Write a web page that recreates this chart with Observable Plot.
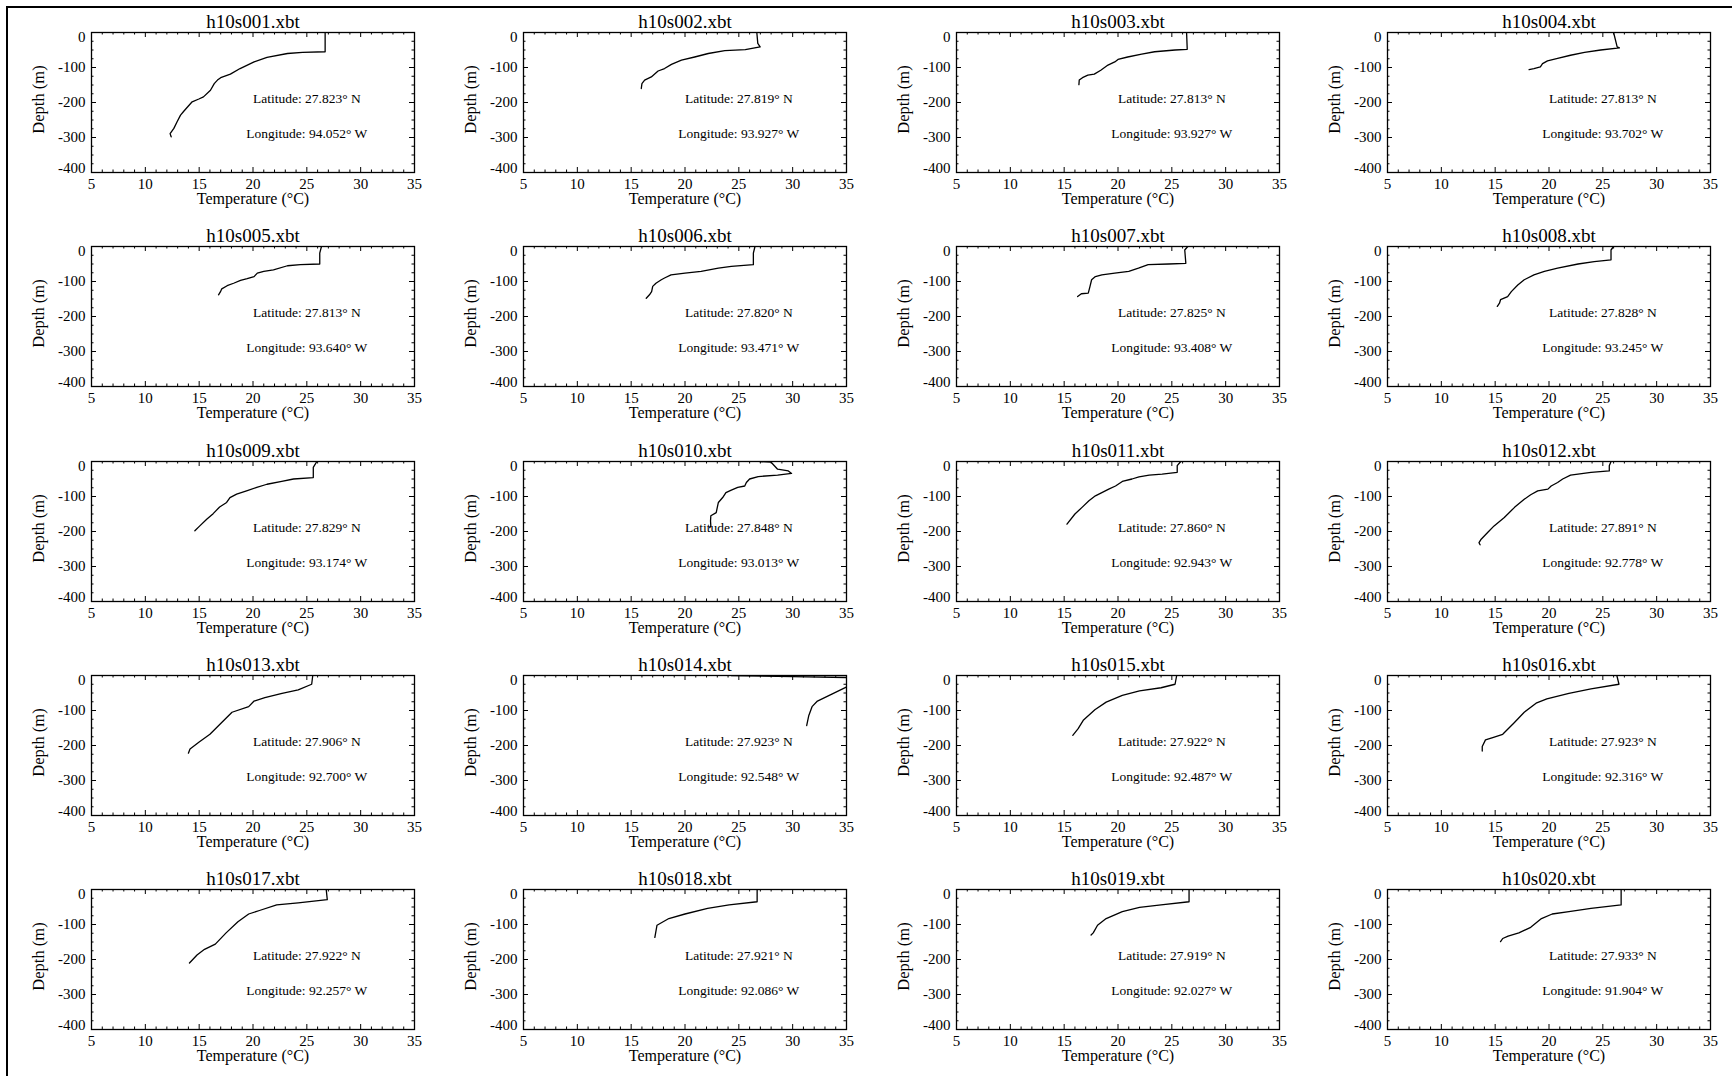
<!DOCTYPE html>
<html><head><meta charset="utf-8">
<script src="https://cdn.jsdelivr.net/npm/d3@7"></script>
<script src="https://cdn.jsdelivr.net/npm/@observablehq/plot@0.6"></script>
<style>
html,body{margin:0;padding:0;background:#fff;}
#wrap{position:relative;width:1732px;height:1076px;overflow:hidden;background:#fff;}
.panel{position:absolute;}
#frame{position:absolute;left:6px;top:6px;width:1800px;height:1200px;border-left:2px solid #000;border-top:2px solid #000;}
</style></head><body><div id="wrap"><div id="frame"></div></div>
<script>
const stations = ["h10s001.xbt","h10s002.xbt","h10s003.xbt","h10s004.xbt","h10s005.xbt","h10s006.xbt","h10s007.xbt","h10s008.xbt","h10s009.xbt","h10s010.xbt","h10s011.xbt","h10s012.xbt","h10s013.xbt","h10s014.xbt","h10s015.xbt","h10s016.xbt","h10s017.xbt","h10s018.xbt","h10s019.xbt","h10s020.xbt"];
const latitudes = ["27.823","27.819","27.813","27.813","27.813","27.820","27.825","27.828","27.829","27.848","27.860","27.891","27.906","27.923","27.922","27.923","27.922","27.921","27.919","27.933"];
const longitudes = ["94.052","93.927","93.927","93.702","93.640","93.471","93.408","93.245","93.174","93.013","92.943","92.778","92.700","92.548","92.487","92.316","92.257","92.086","92.027","91.904"];

const xMajorTicks = [5,10,15,20,25,30,35];
const xMinorTicks = [6,7,8,9,11,12,13,14,16,17,18,19,21,22,23,24,26,27,28,29,31,32,33,34];
const yMajorTicks = [0,-100,-200,-300,-400];
const yMinorTicks = [-25,-50,-75,-125,-150,-175,-225,-250,-275,-325,-350,-375];

const profileTemps = [
  [26.7,26.7,24.6,23.2,21.3,20.1,18.8,17.9,17.0,16.7,16.4,16.05,15.4,14.97,14.35,14.0,13.57,13.27,12.95,12.65,12.3,12.4],
  [26.67,26.76,26.98,25.6,23.7,22.16,20.9,19.67,18.74,18.1,17.5,16.87,16.25,16.0,15.94],
  [26.37,26.43,25.3,23.4,22.2,20.9,20.0,19.7,19.07,18.4,17.8,17.2,16.7,16.4,16.37],
  [26.0,26.33,26.54,24.8,23.3,22.0,20.8,19.86,19.4,19.2,18.6,18.15],
  [26.36,26.2,26.2,24.4,23.2,21.9,21.0,20.4,20.1,19.46,18.84,18.2,17.6,17.1,16.98,16.8],
  [26.5,26.35,26.35,24.3,23.1,21.5,20.0,18.7,18.1,17.8,17.3,17.0,16.9,16.7,16.4],
  [26.48,26.2,26.3,24.7,22.8,21.9,21.0,19.7,18.5,17.9,17.55,17.4,17.24,16.6,16.47,16.25],
  [26.0,25.76,25.76,24.2,22.7,20.8,19.57,18.6,17.7,17.1,16.5,16.16,15.5,15.4,15.2],
  [25.93,25.6,25.6,23.76,22.67,21.3,20.35,19.4,18.48,17.86,17.55,16.9,16.3,15.7,15.06,14.6],
  [26.94,28.0,28.3,28.6,29.6,29.9,28.6,26.8,26.0,25.7,25.55,24.9,24.3,23.8,23.5,23.1,23.0,22.9,22.4,22.37,22.4,22.3],
  [25.83,25.5,25.5,24.1,22.9,21.95,21.3,20.4,19.77,19.14,18.5,17.9,17.3,16.66,16.0,15.26],
  [25.76,25.6,25.6,23.9,22.0,21.27,20.8,20.2,19.9,18.95,18.3,17.7,16.8,15.85,14.9,14.3,13.7,13.5,13.6],
  [25.55,25.45,24.2,22.7,21.1,20.1,19.6,18.05,17.0,16.0,15.0,14.15,14.0],
  [24.3,30.0,35.5,37.0,35.2,33.4,32.3,31.8,31.5,31.3],
  [25.45,25.3,24.0,22.0,20.4,18.9,17.85,16.8,16.3,15.8],
  [26.3,26.5,23.9,21.85,19.8,18.8,17.7,16.7,15.7,14.7,14.1,13.8,13.8],
  [26.8,26.9,24.2,22.2,20.6,19.6,18.6,17.5,16.5,15.5,14.8,14.1],
  [26.7,26.7,24.1,22.1,20.0,18.5,17.4,17.2],
  [26.6,26.6,24.0,22.0,20.4,18.9,18.1,17.7,17.5],
  [26.7,26.7,23.9,21.85,20.3,19.3,18.3,17.2,16.2,15.7,15.5]
];
const profileDepths = [
  [0,-55,-57,-60,-71,-84,-103,-119,-129,-136,-146,-165,-184,-190,-198,-210,-225,-236,-255,-274,-289,-298],
  [0,-31,-41,-49,-52,-60,-70,-79,-91,-103,-110,-127,-136,-146,-160],
  [0,-48,-50,-55,-62,-70,-77,-84,-93,-108,-119,-122,-129,-136,-149],
  [0,-41,-44,-50,-57,-65,-74,-81,-89,-98,-103,-106],
  [0,-19,-50,-52,-55,-67,-71,-76,-86,-92,-97,-105,-112,-121,-129,-138],
  [0,-19,-52,-57,-62,-71,-76,-81,-90,-95,-105,-114,-129,-138,-148],
  [0,-10,-48,-50,-52,-62,-71,-76,-81,-86,-95,-114,-133,-135,-138,-143],
  [0,-10,-38,-43,-50,-62,-71,-81,-95,-110,-129,-143,-152,-162,-171],
  [0,-17,-46,-50,-57,-65,-74,-84,-93,-103,-117,-130,-149,-165,-184,-198],
  [0,-2,-12,-22,-27,-34,-39,-43,-50,-60,-70,-74,-82,-89,-103,-117,-131,-146,-155,-170,-184,-189],
  [0,-12,-31,-36,-39,-44,-50,-57,-70,-79,-89,-98,-112,-131,-150,-179],
  [0,-12,-27,-31,-39,-50,-60,-70,-79,-84,-95,-108,-131,-160,-184,-203,-222,-232,-238],
  [0,-25,-41,-51,-63,-73,-89,-105,-137,-168,-190,-210,-222],
  [0,-3,-6,-15,-30,-57,-73,-89,-114,-143],
  [0,-25,-35,-44,-57,-76,-98,-127,-152,-171],
  [0,-25,-38,-51,-67,-79,-105,-137,-168,-178,-184,-203,-216],
  [0,-29,-38,-44,-60,-70,-92,-124,-156,-171,-187,-210],
  [0,-35,-44,-54,-70,-83,-102,-137],
  [0,-35,-44,-51,-63,-83,-102,-124,-130],
  [0,-44,-54,-63,-70,-83,-108,-124,-133,-140,-149]
];

const colLeft = [0, 432, 865, 1296];
const rowTop = [0, 214.3, 428.6, 642.9, 857.2];
const W = 432, H = 214, ML = 91, MR = 18, MT = 32, MB = 42;
const BW = W - ML - MR, BH = H - MT - MB;
const FONT = "'Liberation Serif', 'Times New Roman', serif";
const wrap = document.getElementById("wrap");

stations.forEach((name, i) => {
  const rows = profileTemps[i].map((t, j) => ({t, d: profileDepths[i][j]}));
  const plot = Plot.plot({
    width: W, height: H,
    marginLeft: ML, marginRight: MR, marginTop: MT, marginBottom: MB,
    x: {domain: [5, 35]},
    y: {domain: [-400, 0]},
    style: {fontFamily: FONT, fontSize: "15px", color: "#000", background: "transparent", overflow: "visible"},
    marks: [
      Plot.line(rows, {x: "t", y: "d", stroke: "#000", strokeWidth: 1.3, clip: true}),
      Plot.frame({stroke: "#000", strokeWidth: 1.3}),
      Plot.tickX(xMajorTicks, {x: d => d, insetTop: BH - 5, stroke: "#000"}),
      Plot.tickX(xMajorTicks, {x: d => d, insetBottom: BH - 5, stroke: "#000"}),
      Plot.tickX(xMinorTicks, {x: d => d, insetTop: BH - 2.5, stroke: "#000"}),
      Plot.tickX(xMinorTicks, {x: d => d, insetBottom: BH - 2.5, stroke: "#000"}),
      Plot.tickY(yMajorTicks, {y: d => d, insetRight: BW - 5, stroke: "#000"}),
      Plot.tickY(yMajorTicks, {y: d => d, insetLeft: BW - 5, stroke: "#000"}),
      Plot.tickY(yMinorTicks, {y: d => d, insetRight: BW - 2.5, stroke: "#000"}),
      Plot.tickY(yMinorTicks, {y: d => d, insetLeft: BW - 2.5, stroke: "#000"}),
      Plot.axisX({ticks: xMajorTicks, tickSize: 0, tickPadding: 6, label: null, tickFormat: d => String(d), fontSize: 15}),
      Plot.axisY({ticks: yMajorTicks.slice(1, 4), tickSize: 0, tickPadding: 6, label: null, tickFormat: d => String(d), fontSize: 15}),
      Plot.text([yMajorTicks[0]], {x: 5, y: d => d, text: d => String(d), textAnchor: "end", dx: -6, dy: 5, fontSize: 15}),
      Plot.text([yMajorTicks[4]], {x: 5, y: d => d, text: d => String(d), textAnchor: "end", dx: -6, dy: -4, fontSize: 15}),
      Plot.text([name], {frameAnchor: "top", dy: -5, lineAnchor: "bottom", fontSize: 19}),
      Plot.text(["Temperature (°C)"], {frameAnchor: "bottom", dy: 31, lineAnchor: "bottom", fontSize: 16}),
      Plot.text(["Depth (m)"], {frameAnchor: "left", dx: -53, dy: -3, rotate: -90, textAnchor: "middle", fontSize: 16.5}),
      Plot.text([`Latitude: ${latitudes[i]}° N`], {x: 25, y: -200, lineAnchor: "bottom", fontSize: 13.5}),
      Plot.text([`Longitude: ${longitudes[i]}° W`], {x: 25, y: -300, lineAnchor: "bottom", fontSize: 13.5})
    ]
  });
  const div = document.createElement("div");
  div.className = "panel";
  div.style.left = colLeft[i % 4] + "px";
  div.style.top = rowTop[Math.floor(i / 4)] + "px";
  div.appendChild(plot);
  wrap.appendChild(div);
});
</script>
</body></html>
